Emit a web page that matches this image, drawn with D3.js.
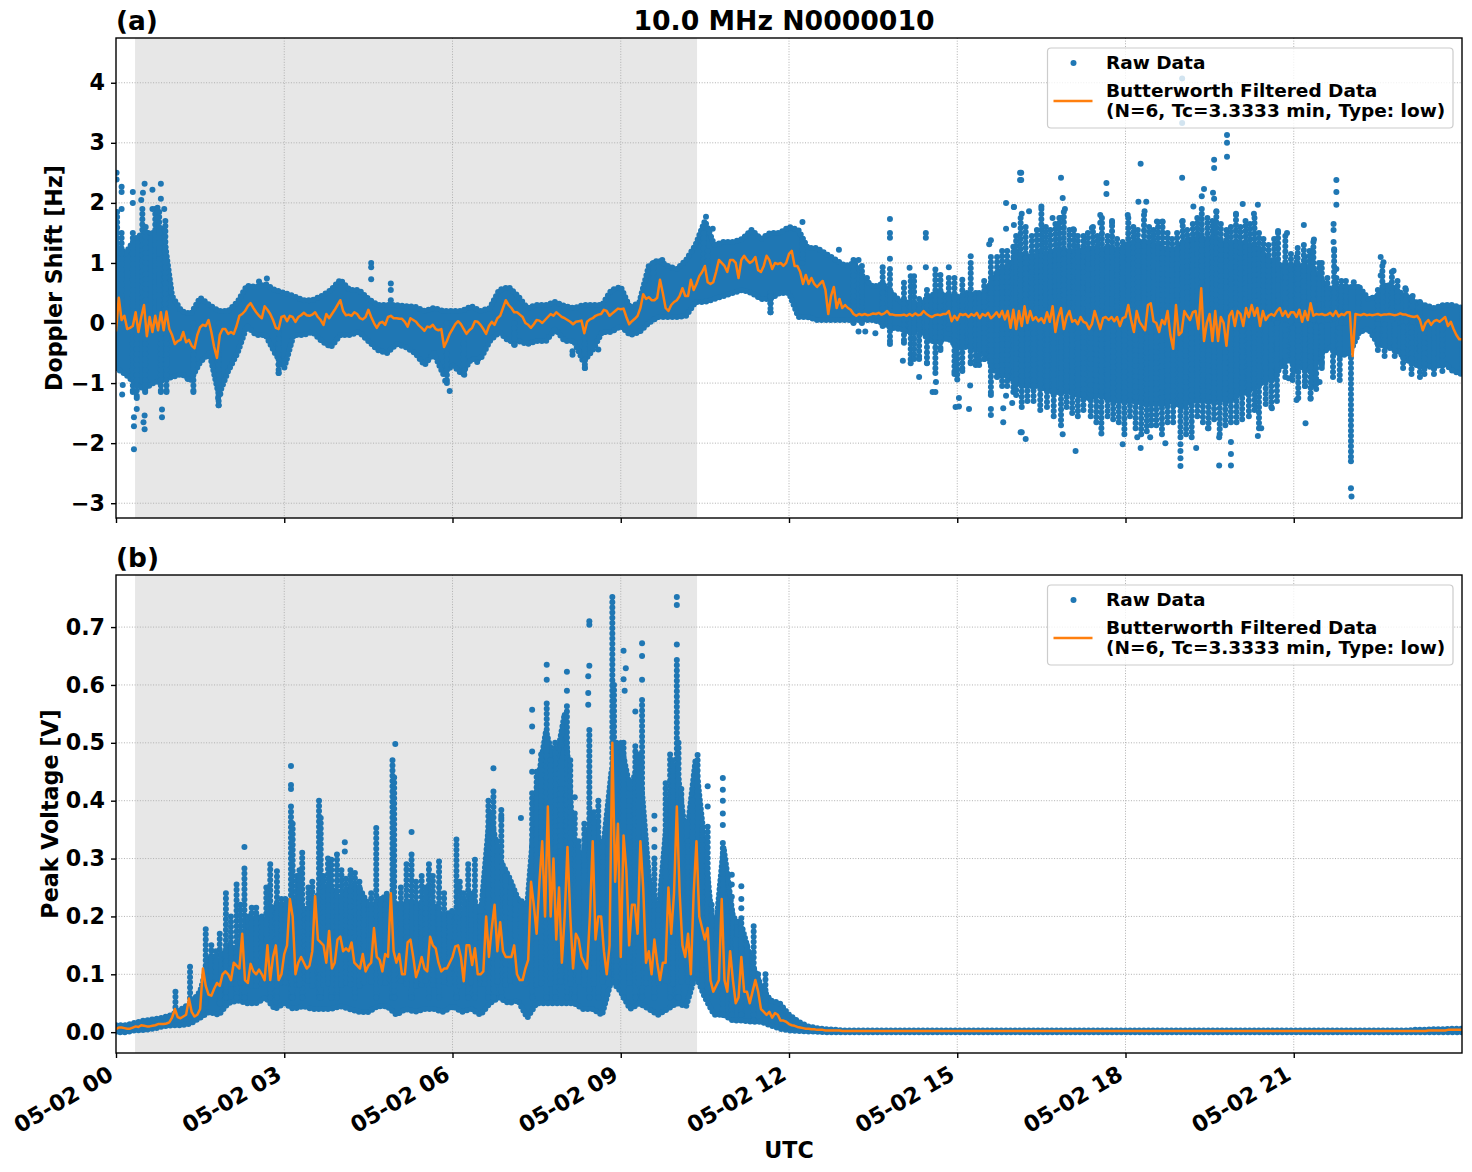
<!DOCTYPE html>
<html><head><meta charset="utf-8">
<script src="https://cdn.jsdelivr.net/npm/d3@7"></script>
<style>html,body{margin:0;background:#fff}svg{display:block}text{font-family:"DejaVu Sans";font-weight:bold;fill:#000}</style>
</head><body><div id="c"></div>
<script>
const titleText="10.0 MHz N0000010", panelLabels=["(a)","(b)"];
const yLabels=["Doppler Shift [Hz]","Peak Voltage [V]"], xLabel="UTC";
const legendLabels=["Raw Data","Butterworth Filtered Data","(N=6, Tc=3.3333 min, Type: low)"];
const shadeHours=[0.34,10.36];
const tickHours=[0,3,6,9,12,15,18,21];
const yTicksA=[-3,-2,-1,0,1,2,3,4], yTicksB=[0,.1,.2,.3,.4,.5,.6,.7];
const yDomainA=[-3.246,4.745], yDomainB=[-.036,.79];

// Raw data envelope, one value each 10 minutes (6 per hour)
const rawHighA=[1.3,1.15,1.4,1.5,1.5,1.6, .45,.2,.15,.42,.3,.2, .2,.35,.62,.6,.65,.55, .5,.45,.38,.38,.45,.55,
 .72,.55,.55,.4,.3,.3, .3,.28,.27,.2,.25,.2, .2,.2,.28,.2,.25,.55, .6,.45,.25,.3,.3,.35,
 .28,.25,.3,.3,.3,.55, .6,.25,.35,.95,1.05,.95, .9,1.05,1.3,1.7,1.3,1.35, 1.35,1.4,1.55,1.4,1.5,1.5,
 1.6,1.55,1.25,1.25,1.15,1.05, .95,1,.75,.6,.65,.5, .35,.35,.3,.45,.5,.45, .4,.5,.45,.5,.8,.9,
 1.05,1.15,1.1,1.15,1.15,1.2, 1.2,1.2,1.25,1.2,1.25,1.2, 1.3,1.35,1.35,1.3,1.25,1.2, 1.3,1.4,1.4,1.4,1.35,1.3,
 1.35,1.3,1.25,1.1,1.0,.95, .95,.95,.9,.7,.55,.6, .6,.6,.4,.45,.65,.55, .45,.35,.3,.25,.3,.3, .25];
const rawLowA=[-.75,-.85,-1,-1.1,-1,-.95, -.9,-.85,-.95,-.65,-.5,-1.2, -.8,-.5,-.05,-.2,-.2,-.5, -.75,-.2,-.2,-.15,-.3,-.4,
 -.2,-.2,-.15,-.3,-.45,-.5, -.35,-.4,-.5,-.7,-.5,-.85, -.7,-.85,-.6,-.6,-.3,-.15, -.3,-.3,-.35,-.3,-.3,-.1,
 -.3,-.3,-.65,-.45,-.15,-.15, -.05,-.2,-.15,0,.1,.1, .1,.12,.35,.35,.4,.45, .5,.55,.5,.4,.4,.5,
 .5,.1,.1,.05,.05,.05, .05,.05,.05,.05,0,-.08, -.1,-.15,-.1,-.3,-.3,-.25, -.4,-.4,-.4,-.5,-.8,-.85,
 -.95,-1.05,-1.05,-1.05,-1.15,-1.15, -1.15,-1.2,-1.25,-1.2,-1.25,-1.3, -1.3,-1.3,-1.35,-1.35,-1.35,-1.3, -1.4,-1.3,-1.3,-1.3,-1.25,-1.3,
 -1.2,-1.15,-1.05,-.95,-.9,-.6, -.65,-.75,-.8,-.5,-.4,-.55, -.5,-.15,-.1,-.35,-.4,-.45, -.6,-.7,-.7,-.75,-.65,-.8, -.85];
const rawHighB=[.012,.012,.016,.02,.022,.025, .03,.04,.05,.07,.13,.12, .15,.14,.18,.2,.19,.22, .22,.23,.21,.22,.25,.25,
 .23,.25,.25,.22,.22,.24, .22,.22,.22,.22,.22,.2, .21,.2,.24,.2,.38,.3, .27,.23,.22,.42,.52,.46,
 .55,.31,.31,.38,.3,.45, .5,.42,.47,.27,.2,.38, .46,.33,.47,.32,.15,.32, .2,.18,.12,.08,.055,.05,
 .03,.018,.01,.007,.005,.004, .003,.003,.003,.003,.003,.003, .003,.003,.003,.003,.003,.003, .003,.003,.003,.003,.003,.003,
 .003,.003,.003,.003,.003,.003, .003,.003,.003,.003,.003,.003, .003,.003,.003,.003,.003,.003, .003,.003,.003,.003,.003,.003,
 .003,.003,.003,.003,.003,.003, .003,.003,.003,.003,.003,.003, .003,.003,.003,.003,.003,.003, .003,.004,.004,.005,.005,.006, .006];
const rawLowB=[0,0,.003,.004,.006,.01, .012,.012,.015,.025,.035,.03, .05,.055,.05,.05,.06,.04, .05,.04,.045,.04,.04,.04,
 .045,.04,.035,.035,.045,.045, .03,.04,.035,.04,.04,.035, .045,.035,.04,.03,.05,.06, .05,.055,.025,.05,.05,.05,
 .05,.05,.04,.04,.03,.09, .07,.04,.05,.04,.03,.04, .05,.045,.1,.06,.03,.03, .02,.02,.018,.018,.012,.006,
 .003,.002,.001,.001,0,0, 0,0,0,0,0,0, 0,0,0,0,0,0, 0,0,0,0,0,0, 0,0,0,0,0,0, 0,0,0,0,0,0, 0,0,0,0,0,0, 0,0,0,0,0,0,
 0,0,0,0,0,0, 0,0,0,0,0,0, 0,0,0,0,0,0, 0,0,0,0,0,0, 0];

// Raw data columns of stacked dots: hour, lowest, highest
const columnHoursA=[.02,.1,.3,.47,.53,.7,.77,.88, .3,.37,.52,.8,.9,1.38, 9.58,10.48,10.55,12.24,
 13.67,13.8,14.05,14.17,14.23,14.46,14.61,14.7,14.85,15,15.09,15.24,15.33,15.39,15.6,15.71,15.89,16,
 21.05,21.2,21.33,21.5,21.76,22.02,22.58,22.75, 2.9,5.9,6.2,8.36,1.83,11.67,7.1,13.15,13.3,14.32,14.95,15.48,15.8];
const columnLowA=[0,0,0,0,0,0,0,0, -1.15,-1.25,-1.15,-1.15,-1.15,-1.15, .5,.9,.9,1,
 -.05,-.3,-.33,-.67,-.6,-.67,-.83,-.45,-.1,-.94,-.8,-.67,-.7,-.7,-1.2,-.9,-1.05,-1.15,
 -.8,-1.05,-1.05,-.7,.2,-2.3,.1,.1, -.83,-1,-.85,-.75,-1.37,.18,-.36,0,0,-.6,-.85,-.6,-1.05];
const columnHighA=[1.85,1.5,1.5,1.9,1.6,1.9,1.85,1.7, 0,0,0,0,0,0, 1,1.5,1.2,1.4,
 .85,.9,.67,.78,.78,.55,.89,.8,.75,.44,.72,1,.5,.5,1.1,1.1,1.2,1.27,
 1.1,1.1,1.2,1,.75,-.58,.95,.85, 0,0,0,0,0,.5,0,1.05,.95,.4,.75,.7,1.2];
const columnHoursB=[1.06,1.32,1.6,1.85,1.96,2.15,2.29,2.75,2.87,3.12,3.32,3.62,3.84,3.94,4.26,4.64,4.93,5.27,5.58,5.76,6.07,
 6.28,6.4,6.64,6.73,6.87,7.42,7.68,7.83,8.04,8.18,8.44,8.6,8.85,9.05,9.26,9.38,9.6,9.88,10,10.37,10.55,10.82,10.98,11.15,11.37,11.58,
 3.15,3.65,4.96,8.88,10.03];
const columnLowB=[.03,.03,.05,.05,.06,.06,.06,.06,.06,.06,.06,.06,.06,.06,.06,.06,.06,.06,.06,.06,.06,
 .06,.06,.06,.06,.06,.06,.06,.06,.06,.06,.06,.06,.1,.06,.06,.06,.06,.06,.06,.1,.06,.03,.03,.03,.02,.02,
 .06,.06,.06,.1,.06];
const columnHighB=[.07,.113,.178,.17,.24,.255,.283,.29,.278,.39,.31,.4,.298,.307,.275,.353,.47,.307,.29,.295,.333,
 .29,.298,.4,.416,.384,.413,.568,.5,.563,.378,.522,.4,.752,.5,.494,.574,.3,.48,.643,.479,.355,.327,.208,.197,.183,.1,
 .36,.37,.44,.6,.5];

// Raw data stacks rising from the dense core to their outermost dot
const bristleHoursA=[16.05,16.13,16.22,16.33,16.42,16.5,16.58,16.66,16.75,16.82,16.9,17,17.08,17.15,17.25,17.33,17.42,17.5,17.58,17.68,17.76,17.85,17.95,18.05,18.14,18.22,18.33,18.42,18.5,18.58,18.66,18.75,18.83,18.92,19.02,19.1,19.2,19.28,19.36,19.46,19.55,19.62,19.7,19.8,19.88,19.97,20.05,20.14,20.22,20.3,20.38,20.46,20.55,20.65,20.72,20.85,20.95,21.07,21.18,21.28,21.35,21.45,21.6,21.72,21.85,21.93,22.15,22.5,22.85,23,23.12,23.25,
 16.05,16.15,16.25,16.36,16.48,16.6,16.72,16.85,16.95,17.05,17.15,17.25,17.38,17.48,17.57,17.68,17.78,17.88,17.98,18.08,18.18,18.28,18.38,18.46,18.55,18.65,18.75,18.85,18.98,19.08,19.18,19.28,19.38,19.48,19.58,19.68,19.78,19.88,19.98,20.08,20.2,20.3,20.38,20.5,20.6,20.7,20.85,20.98,21.08,21.2,21.3,21.4,21.5,21.7,21.82,22.5,22.62,22.8,22.95,23.1,23.25,23.33,23.5,23.65];
const bristleTipsA=[1.45,1.75,1.6,1.45,1.55,1.9,1.6,1.55,1.65,1.75,1.85,1.55,1.55,1.45,1.45,1.5,1.6,1.45,1.75,1.45,1.7,1.4,1.35,1.75,1.6,1.55,1.8,1.6,1.55,1.68,1.68,1.5,1.4,1.5,1.7,1.55,1.65,1.75,1.9,1.75,1.7,1.85,1.65,1.55,1.6,1.8,1.6,1.7,1.65,1.75,1.5,1.4,1.3,1.4,1.5,1.45,1.15,1.25,1.3,1.2,1.35,1,.75,1.2,.7,.7,.6,.55,.7,.55,.45,.35,
 -1.2,-1.4,-1.3,-1.3,-1.45,-1.4,-1.55,-1.7,-1.4,-1.5,-1.55,-1.45,-1.55,-1.65,-1.75,-1.55,-1.6,-1.65,-1.85,-1.55,-1.75,-1.85,-1.8,-1.7,-1.7,-1.85,-1.65,-1.65,-1.9,-1.85,-1.9,-1.55,-1.65,-1.75,-1.6,-1.85,-1.7,-1.65,-1.65,-1.6,-1.55,-1.45,-1.75,-1.35,-1.4,-1.3,-.9,-.95,-1.25,-1.05,-1.25,-1.1,-.75,-.9,-.95,-.45,-.55,-.55,-.75,-.85,-.9,-.85,-.85,-.8];
const bristleHoursB=[1.7,1.78,2.05,2.22,2.36,2.42,2.5,2.6,2.68,2.95,3.02,3.22,3.27,3.43,3.5,3.7,3.78,4.02,4.1,4.18,4.34,4.42,4.55,4.72,4.8,5.08,5.18,5.35,5.45,5.52,5.65,5.85,5.95,6.13,6.2,6.33,6.5,6.57,6.8,6.95,7.03,7.12,7.3,7.5,7.58,7.75,7.93,8.1,8.25,8.35,8.52,8.68,8.78,8.92,9.15,9.32,9.45,9.67,9.8,9.93,10.08,10.2,10.28,10.45,10.62,10.7,10.9,11.05,11.25,11.45];
const bristleTipsB=[.15,.14,.2,.22,.2,.215,.215,.2,.25,.23,.23,.27,.28,.25,.26,.27,.3,.28,.265,.28,.26,.23,.24,.23,.22,.25,.29,.26,.27,.25,.27,.24,.2,.26,.24,.23,.2,.2,.33,.27,.25,.23,.2,.45,.48,.47,.42,.47,.33,.36,.38,.33,.3,.5,.4,.48,.3,.22,.43,.47,.42,.33,.4,.35,.22,.17,.2,.16,.15,.1];

// Raw data single dots
const dotHoursA=[.01,.01,.1,.1,.1,.3,.3,.51,.45,.48,.65,.8,.8,.74,.86,.65,.32,.32,.32,.37,.51,.49,.51,.82,.82,.11,.12,
 4.55,4.55,4.55,4.9,4.9,4.9,2.55,2.69,2.9,2.9,1.82,1.86,1.83,5.95,5.87,6.21,6.21,6.44,7.11,1.28,
 10.52,10.64,9.74,11.67,11.67,11.67,12.24,8.14,8.14,8.36,8.36,8.6,12.89,13.24,13.39,13.24,13.36,13.54,13.8,13.8,13.8,13.8,13.67,13.8,14.15,14.44,14.44,14.44,14.03,14.32,14.56,14.61,14.62,14.85,15.24,15.03,14.97,15.03,15.21,15.23,15.6,15.57,15.87,16.01,16.01,15.87,16.12,16.12,15.6,15.6,15.82,15.82,15.87,15.98,16.13,
 16.01,16.15,16.28,16.5,16.14,16.14,16.85,16.88,16.92,17.66,17.66,18.27,19.01,18.23,18.37,18.34,17.55,17.55,17.76,18.04,16.7,16.84,17.07,17.4,18.56,18.66,19.01,19.21,19.36,19.4,19.56,19.58,19.62,19.58,19.58,19.81,19.81,19.81,19.01,19.01,20.09,20.36,20.29,19.97,20.72,20.88,21.18,21.36,21.76,21.76,21.76,21.71,21.71,21.71,21.72,21.76,22.55,22.6,22.78,22.55,22.99,22.07,
 16.15,16.22,17.11,17.95,18.27,18.98,18.98,18.98,18.98,19.67,19.88,19.88,19.88,19.26,20.36,16.88,17.57,18.21,18.44,18.71,19.67,19.47,20.42,20.61,21.05,21.21,21.3,21.46,20.91,22.02,22.03];
const dotValuesA=[2.5,2.39,2.27,2.18,1.9,2.18,2,2.32,2.05,2.17,2.22,2.32,2.07,1.92,1.9,1.9,-1.57,-1.72,-2.1,-1.43,-1.54,-1.65,-1.77,-1.44,-1.57,-1.19,-1.03,
 1,.93,.73,.66,.55,.38,.69,.74,-.69,-.83,-1.25,-1.18,-1.37,-1.13,-.96,-.86,-.79,-.65,-.36,-.93,
 1.77,1.57,1.05,.44,.33,.18,1.68,-.47,-.53,-.75,-.61,-.44,1.22,1.05,.75,-.14,-.14,-.17,1.73,1.5,1.42,1.07,.93,-.35,.92,1.5,1.42,.93,-.63,-.9,-1.15,-1.15,-.98,.93,1.11,-1.25,-1.4,-1.39,-1.43,-1.04,1.38,1.31,2,1.93,1.63,1.57,2.5,2.38,-1.43,-1.53,-1.42,-1.65,-1.21,-1.33,-1.82,
 1.93,1.82,1.86,1.94,2.5,2.38,2.42,2.08,1.9,2.33,2.15,2.65,2.42,2.02,2.02,1.86,1.8,1.67,1.67,1.8,1.75,1.75,1.56,1.58,1.69,1.69,1.69,1.94,2.11,2.23,2.17,2.07,1.86,2.72,2.58,3.13,3,2.77,4.07,3.33,1.98,1.97,1.82,1.82,1.53,1.5,1.63,1.39,2.38,2.18,1.97,1.65,1.55,1.35,1.23,.9,1.1,1.01,.87,.79,.58,.68,
 -1.82,-1.93,-2.13,-2.02,-2.08,-2.02,-2.13,-2.25,-2.38,-2.37,-2.37,-2.18,-1.98,-2.08,-1.88,-1.85,-1.84,-1.9,-1.9,-2,-1.9,-1.75,-1.75,-1.42,-1.28,-1.67,-1.26,-.98,-.92,-2.75,-2.89];
const dotHoursB=[2.29,3.12,3.12,3.12,4.08,4.08,4.98,5.27,6.73,7.42,7.42,7.42,7.42,7.68,7.68,8.04,8.04,8.18,8.44,8.44,8.44,8.42,8.42,8.42,9.05,9.05,9.07,9.09,9.26,9.38,9.38,9.38,9.6,9.6,9.6,10,10,10,10.55,10.55,10.82,10.82,10.82,10.82,10.82,10.98,10.98,10.98,11.15,11.15,11.15,6.87,7.22];
const dotValuesB=[.32,.46,.427,.42,.328,.312,.498,.346,.456,.557,.528,.485,.45,.635,.609,.59,.623,.406,.71,.704,.633,.615,.586,.566,.659,.61,.59,.629,.554,.672,.65,.609,.374,.35,.32,.752,.738,.67,.425,.39,.439,.419,.4,.378,.358,.272,.255,.234,.252,.23,.214,.37,.37];

// Butterworth filtered series, one value each 3 minutes (20 per hour)
const filteredA=[
 -.14,.42,.05,.12,-.1,-.08,-.05,.18,-.15,.1,.3,-.22,.1,-.15,.12,-.12,.18,-.12,.19,-.1,
 -.2,-.35,-.3,-.28,-.15,-.32,-.28,-.38,-.42,-.2,-.07,-.03,-.05,.05,-.15,-.4,-.58,-.2,-.1,-.1,
 -.18,-.15,-.18,-.05,.12,.15,.2,.28,.33,.25,.18,.12,.08,.28,.22,.15,.05,-.08,-.1,.1,
 .12,.03,.12,.1,.02,.1,.13,.17,.13,.12,.14,.18,.1,.05,-.03,.15,.08,.15,.22,.3,
 .38,.2,.13,.14,.12,.18,.15,.08,.06,.1,.22,.1,0,-.08,0,.02,-.03,.1,.12,.08,
 .08,.07,.07,.02,-.06,.08,.05,.02,-.04,-.08,-.13,-.06,-.07,-.03,-.1,-.12,-.1,-.4,-.3,-.18,
 -.1,-.02,.03,-.02,-.1,-.18,-.12,-.08,.03,.02,-.03,-.1,-.18,-.05,.02,-.03,.08,.12,.25,.38,
 .3,.25,.18,.18,.14,.1,0,-.03,-.08,-.02,.05,.04,0,.05,.1,.15,.12,.18,.14,.1,
 .08,.05,.02,-.02,.02,.03,.04,-.17,.02,.06,.08,.12,.14,.15,.22,.2,.12,.16,.2,.24,
 .23,.24,.1,-.02,.03,.07,.12,.25,.48,.4,.43,.38,.38,.42,.72,.5,.25,.2,.3,.35,
 .38,.45,.58,.45,.45,.72,.55,.65,.78,.85,.95,.68,.65,.68,.85,1.05,1,.95,.85,1.05,
 1.05,1,.75,1.05,1.12,1.05,1,1.03,1.1,.88,.85,.95,1.12,1.05,.9,1,.98,1,.95,1,
 1.15,1.2,.95,.95,.85,.65,.8,.65,.75,.65,.6,.65,.7,.55,.15,.45,.6,.25,.4,.25,
 .3,.25,.22,.15,.12,.15,.13,.15,.13,.14,.16,.15,.17,.14,.16,.2,.14,.14,.13,.13,
 .13,.14,.12,.15,.12,.16,.13,.14,.2,.15,.12,.1,.13,.14,.13,.15,.15,.2,.03,.12,
 .05,.15,.13,.15,.1,.15,.12,.17,.08,.15,.12,.17,.08,.12,.18,.1,.2,.06,.2,-.08,
 .22,-.1,.2,-.05,.28,0,.2,.05,.1,.03,.08,0,.18,.02,.28,-.15,.1,.25,-.1,.1,
 .2,.02,.05,-.02,.1,.02,0,-.1,-.02,.2,.05,-.1,.08,.1,.05,.1,.03,.1,-.05,.08,
 .1,.3,.05,-.15,.2,.02,-.05,-.12,.3,.33,.03,0,-.15,.05,-.02,.2,-.2,-.43,.3,-.2,
 -.15,.2,.12,.05,.18,.2,-.1,.58,-.3,0,.15,-.3,.2,-.3,.1,0,-.38,.12,.2,-.05,
 .2,.15,-.05,.25,.1,.3,.12,.25,-.05,.2,.05,.12,.15,.12,.2,.25,.12,.2,.1,.18,
 .18,.1,.22,.02,.2,.05,.33,.12,.15,.14,.15,.13,.14,.17,.12,.2,.11,.15,.13,.18,
 .18,-.55,.15,.14,.13,.15,.13,.14,.13,.14,.15,.13,.14,.14,.15,.14,.13,.14,.16,.14,
 .14,.12,.11,.1,.12,.05,-.12,0,.05,-.03,.03,.05,.02,.06,.1,-.05,.02,-.1,-.2,-.27,-.27];
const filteredB=[
 .005,.008,.008,.007,.006,.006,.008,.01,.009,.012,.011,.01,.01,.011,.012,.014,.014,.014,.015,.017,
 .025,.04,.026,.024,.027,.03,.058,.035,.027,.03,.04,.11,.08,.065,.063,.075,.085,.08,.1,.105,
 .1,.09,.12,.115,.11,.17,.09,.085,.118,.105,.1,.108,.1,.09,.15,.09,.13,.15,.09,.1,
 .135,.15,.23,.2,.1,.12,.13,.12,.11,.115,.14,.235,.16,.155,.15,.12,.175,.11,.12,.16,
 .165,.14,.145,.14,.155,.12,.115,.11,.135,.105,.115,.12,.18,.13,.125,.105,.135,.13,.24,.14,
 .12,.135,.1,.1,.155,.16,.13,.095,.11,.13,.11,.105,.165,.15,.145,.12,.105,.11,.11,.12,
 .13,.148,.15,.13,.088,.15,.15,.116,.145,.1,.1,.105,.2,.13,.18,.22,.14,.19,.14,.13,
 .13,.13,.15,.1,.09,.09,.11,.125,.26,.22,.17,.26,.33,.2,.39,.2,.3,.16,.25,.12,
 .2,.32,.2,.11,.17,.16,.13,.12,.11,.2,.33,.16,.2,.2,.14,.1,.15,.5,.26,.36,
 .13,.34,.28,.15,.22,.22,.17,.33,.25,.12,.14,.1,.16,.12,.09,.12,.12,.25,.17,.24,
 .39,.24,.15,.13,.17,.1,.24,.33,.2,.18,.16,.18,.09,.07,.08,.09,.23,.09,.07,.14,
 .09,.05,.06,.13,.07,.07,.05,.07,.09,.07,.04,.035,.03,.035,.025,.033,.03,.02,.02,.018,
 .014,.012,.011,.009,.008,.007,.006,.006,.005,.005,.004,.004,.004,.003,.003,.003,.003,.003,.003,.002,
 .002,.002,.002,.002,.002,.002,.002,.002,.002,.002,.002,.002,.002,.002,.002,.002,.002,.002,.002,.002,
 .002,.002,.002,.002,.002,.002,.002,.002,.002,.002,.002,.002,.002,.002,.002,.002,.002,.002,.002,.002,
 .002,.002,.002,.002,.002,.002,.002,.002,.002,.002,.002,.002,.002,.002,.002,.002,.002,.002,.002,.002,
 .002,.002,.002,.002,.002,.002,.002,.002,.002,.002,.002,.002,.002,.002,.002,.002,.002,.002,.002,.002,
 .002,.002,.002,.002,.002,.002,.002,.002,.002,.002,.002,.002,.002,.002,.002,.002,.002,.002,.002,.002,
 .002,.002,.002,.002,.002,.002,.002,.002,.002,.002,.002,.002,.002,.002,.002,.002,.002,.002,.002,.002,
 .002,.002,.002,.002,.002,.002,.002,.002,.002,.002,.002,.002,.002,.002,.002,.002,.002,.002,.002,.002,
 .002,.002,.002,.002,.002,.002,.002,.002,.002,.002,.002,.002,.002,.002,.002,.002,.002,.002,.002,.002,
 .002,.002,.002,.002,.002,.002,.002,.002,.002,.002,.002,.002,.002,.002,.002,.002,.002,.002,.002,.002,
 .002,.002,.002,.002,.002,.002,.002,.002,.002,.002,.002,.002,.002,.002,.002,.002,.002,.002,.002,.002,
 .002,.002,.002,.002,.002,.002,.002,.002,.003,.003,.003,.003,.003,.003,.003,.004,.004,.004,.004,.004,.004];

const blue="#1f77b4", orange="#ff7f0e";
const W=1472,H=1172, L=116,R=1462, dotR=3;
const toDate=h=>new Date(Date.UTC(2024,4,2)+h*3600000);
const x=d3.scaleUtc().domain([toDate(0),toDate(24)]).range([L,R]);
const svg=d3.select("#c").append("svg").attr("width",W).attr("height",H);

function panel(i,top,bot,yDom,yTicks,yFmt,high,low,colH,colL,colT,briH,briT,briBase,dotH,dotV,filt,showX){
  const y=d3.scaleLinear().domain(yDom).range([bot,top]);
  const g=svg.append("g");
  const id="clip"+i;
  svg.append("clipPath").attr("id",id).append("rect").attr("x",L).attr("y",top).attr("width",R-L).attr("height",bot-top);
  g.append("rect").attr("x",x(toDate(shadeHours[0]))).attr("width",x(toDate(shadeHours[1]))-x(toDate(shadeHours[0])))
    .attr("y",top).attr("height",bot-top).attr("fill","#808080").attr("fill-opacity",.19);
  const grid=g.append("g").attr("stroke","#b0b0b0").attr("stroke-width",1).attr("stroke-dasharray","1,1.65");
  tickHours.slice(1).forEach(h=>grid.append("line").attr("x1",x(toDate(h))).attr("x2",x(toDate(h))).attr("y1",top).attr("y2",bot));
  yTicks.forEach(t=>grid.append("line").attr("x1",L).attr("x2",R).attr("y1",y(t)).attr("y2",y(t)));
  const plot=g.append("g").attr("clip-path",`url(#${id})`);
  const rows=high.map((v,k)=>({h:k/6,hi:v,lo:low[k]}));
  const env=d3.area().x(d=>x(toDate(d.h))).y0(d=>y(d.lo)).y1(d=>y(d.hi));
  plot.append("path").datum(rows).attr("d",env).attr("fill",blue);
  plot.append("path").datum(rows).attr("d",env).attr("fill","none").attr("stroke",blue)
    .attr("stroke-width",dotR*2).attr("stroke-linecap","round").attr("stroke-dasharray","0 4.6");
  const beads=sel=>sel.attr("stroke",blue).attr("stroke-width",dotR*2).attr("stroke-linecap","round").attr("stroke-dasharray","0 5.2");
  plot.append("g").selectAll("line").data(colH).join("line")
    .attr("x1",d=>x(toDate(d))).attr("x2",d=>x(toDate(d)))
    .attr("y1",(d,k)=>y(colT[k])).attr("y2",(d,k)=>y(colL[k])).call(beads);
  plot.append("g").selectAll("circle").data(colH).join("circle")
    .attr("cx",d=>x(toDate(d))).attr("cy",(d,k)=>y(colL[k])).attr("r",dotR).attr("fill",blue);
  plot.append("g").selectAll("line").data(briH).join("line")
    .attr("x1",d=>x(toDate(d))).attr("x2",d=>x(toDate(d)))
    .attr("y1",(d,k)=>y(briT[k])).attr("y2",y(briBase)).call(beads);
  plot.append("g").selectAll("circle").data(dotH).join("circle")
    .attr("cx",d=>x(toDate(d))).attr("cy",(d,k)=>y(dotV[k])).attr("r",dotR).attr("fill",blue);
  plot.append("path").datum(filt)
    .attr("d",d3.line().x((d,k)=>x(toDate(k/20))).y(d=>y(d)))
    .attr("fill","none").attr("stroke",orange).attr("stroke-width",2.5).attr("stroke-linejoin","round");

  // axes
  const xa=d3.axisBottom(x).tickValues(tickHours.map(toDate)).tickSize(5).tickPadding(6)
     .tickFormat(showX?d3.utcFormat("%m-%d %H"):"");
  const gx=g.append("g").attr("transform",`translate(0,${bot})`).call(xa);
  const ya=d3.axisLeft(y).tickValues(yTicks).tickSize(5).tickPadding(6).tickFormat(yFmt);
  const gy=g.append("g").attr("transform",`translate(${L},0)`).call(ya);
  [gx,gy].forEach(a=>{a.select(".domain").remove();a.selectAll("line").attr("stroke","#000").attr("stroke-width",1.4);
     a.selectAll("text").attr("font-family","DejaVu Sans").attr("font-weight","bold").attr("font-size",22.2).attr("fill","#000");});
  if(showX) gx.selectAll("text").attr("text-anchor","end").attr("dy",0).attr("y",0)
     .attr("transform","translate(-5,20) rotate(-30)").attr("dominant-baseline","middle");
  g.append("rect").attr("x",L).attr("y",top).attr("width",R-L).attr("height",bot-top).attr("fill","none").attr("stroke","#000").attr("stroke-width",1.4);

  // legend
  const lx=1047.5, ly=top+10, lg=g.append("g");
  lg.append("rect").attr("x",lx).attr("y",ly).attr("width",405.5).attr("height",80).attr("rx",3.5)
    .attr("fill","#fff").attr("fill-opacity",.8).attr("stroke","#ccc").attr("stroke-width",1.2);
  lg.append("circle").attr("cx",lx+26).attr("cy",ly+15).attr("r",3).attr("fill",blue);
  lg.append("line").attr("x1",lx+6).attr("x2",lx+45).attr("y1",ly+53).attr("y2",ly+53).attr("stroke",orange).attr("stroke-width",2.5);
  [[21,legendLabels[0]],[49,legendLabels[1]],[69,legendLabels[2]]].forEach(([dy,t])=>
    lg.append("text").attr("x",lx+58.5).attr("y",ly+dy).attr("font-size",18.5).text(t));

  g.append("text").attr("x",L).attr("y",top-8).attr("font-size",26.4).text(panelLabels[i]);
  const cy=(top+bot)/2;
  g.append("text").attr("transform",`translate(${i==0?62:58},${cy}) rotate(-90)`).attr("text-anchor","middle").attr("font-size",22.2).text(yLabels[i]);
}
panel(0,38,518,yDomainA,yTicksA,d3.format("d"),rawHighA,rawLowA,columnHoursA,columnLowA,columnHighA,bristleHoursA,bristleTipsA,0,dotHoursA,dotValuesA,filteredA,false);
panel(1,575,1053,yDomainB,yTicksB,d3.format(".1f"),rawHighB,rawLowB,columnHoursB,columnLowB,columnHighB,bristleHoursB,bristleTipsB,.08,dotHoursB,dotValuesB,filteredB,true);
svg.append("text").attr("x",(L+R)/2-5).attr("y",30).attr("text-anchor","middle").attr("font-size",26.7).text(titleText);
svg.append("text").attr("x",(L+R)/2).attr("y",1158).attr("text-anchor","middle").attr("font-size",22.2).text(xLabel);
</script></body></html>
